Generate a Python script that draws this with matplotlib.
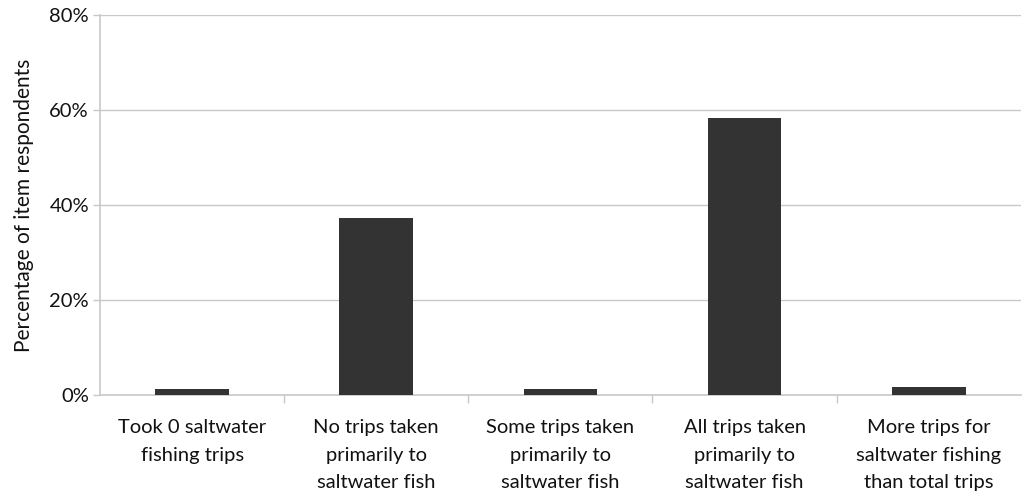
import matplotlib
matplotlib.use("Agg")
import matplotlib.pyplot as plt
import numpy as np
from matplotlib.ticker import FixedLocator, PercentFormatter

categories = [
    "Took 0 saltwater\nfishing trips",
    "No trips taken\nprimarily to\nsaltwater fish",
    "Some trips taken\nprimarily to\nsaltwater fish",
    "All trips taken\nprimarily to\nsaltwater fish",
    "More trips for\nsaltwater fishing\nthan total trips",
]
values = [1.3, 37.3, 1.3, 58.3, 1.7]
yticks = [0, 20, 40, 60, 80]

plt.rcParams['font.family'] = ['Lato', 'DejaVu Sans']

fig = plt.figure(figsize=(10.28, 5.04), dpi=100)
ax = fig.add_axes([0.0973, 0.2163, 0.8957, 0.7537])

x = np.arange(len(categories))
ax.bar(x, values, width=0.4, color="#333333", zorder=3)

ax.set_xlim(-0.5, len(categories) - 0.5)
ax.set_ylim(0, 80)
ax.set_yticks(yticks)
ax.yaxis.set_major_formatter(PercentFormatter(decimals=0))
ax.yaxis.grid(True, color="#c8c8c8", linewidth=1, zorder=0)

ax.set_xticks(x)
ax.set_xticklabels(categories, fontsize=14.5, linespacing=1.78, color="#111111")
ax.tick_params(axis="x", which="major", length=0, pad=17)
ax.xaxis.set_minor_locator(FixedLocator(np.arange(0.5, len(categories) - 0.5, 1.0)))
ax.tick_params(axis="x", which="minor", length=6, color="#c8c8c8", width=1)
ax.tick_params(axis="y", length=5, color="#c8c8c8", width=1, labelsize=14.5, labelcolor="#111111", pad=3)

for s in ["top", "right"]:
    ax.spines[s].set_visible(False)
for s in ["left", "bottom"]:
    ax.spines[s].set_color("#c8c8c8")
    ax.spines[s].set_linewidth(1.2)

ax.set_ylabel("Percentage of item respondents", fontsize=15, color="#111111", labelpad=11)

fig.savefig("out.png", dpi=100)
